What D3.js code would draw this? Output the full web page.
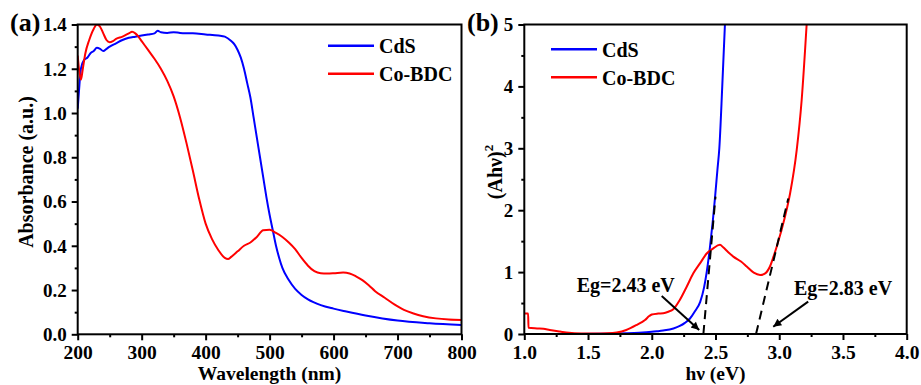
<!DOCTYPE html>
<html><head><meta charset="utf-8">
<script src="https://cdn.jsdelivr.net/npm/d3@7"></script>
<style>
body{margin:0;background:#fff;}
svg{display:block;font-family:"Liberation Serif","Times New Roman",serif;font-weight:bold;}
</style></head>
<body><svg id="c" width="921" height="385"></svg>
<script>
// ---------- DATA ----------
// Panel (a): UV-vis absorbance vs wavelength
const cdsWl  = [200,202,205,210,215,220,225,230,235,240,245,250,260,270,280,290,300,310,320,325,330,340,350,360,380,400,420,430,440,445,450,455,460,465,470,475,480,485,490,495,500,505,510,515,520,530,540,550,560,580,600,620,650,700,750,800];
const cdsAbs = [1.02,1.10,1.20,1.24,1.25,1.27,1.28,1.295,1.29,1.28,1.29,1.30,1.315,1.33,1.34,1.345,1.35,1.355,1.36,1.372,1.365,1.362,1.365,1.362,1.36,1.355,1.35,1.345,1.325,1.31,1.285,1.25,1.20,1.135,1.07,0.98,0.89,0.80,0.71,0.62,0.54,0.47,0.40,0.345,0.30,0.245,0.205,0.178,0.158,0.132,0.116,0.103,0.085,0.062,0.05,0.042];
const coWl   = [200,202,205,208,212,218,225,230,235,240,245,250,255,260,270,280,285,290,295,300,310,320,330,340,350,360,370,380,390,400,410,420,430,435,440,450,460,470,480,490,500,510,520,530,540,550,560,570,580,590,600,615,625,635,645,655,665,680,695,710,725,740,760,780,800];
const coAbs  = [1.26,1.20,1.15,1.20,1.27,1.33,1.38,1.40,1.39,1.36,1.33,1.32,1.325,1.335,1.345,1.36,1.367,1.36,1.345,1.325,1.285,1.245,1.20,1.145,1.075,0.98,0.865,0.74,0.61,0.50,0.43,0.38,0.345,0.34,0.35,0.375,0.40,0.415,0.44,0.47,0.472,0.458,0.44,0.415,0.385,0.345,0.31,0.285,0.276,0.275,0.276,0.279,0.275,0.262,0.245,0.222,0.195,0.165,0.135,0.11,0.094,0.082,0.072,0.067,0.065];
// Panel (b): Tauc plot
const cdsHv  = [1.0,1.2,1.4,1.6,1.8,1.9,2.0,2.06,2.1,2.17,2.22,2.26,2.3,2.34,2.38,2.41,2.431,2.457,2.48,2.496,2.515,2.53,2.553,2.574];
const cdsTau = [0,0,0.002,0.005,0.012,0.02,0.035,0.05,0.06,0.09,0.13,0.18,0.25,0.37,0.52,0.75,1.0,1.41,1.85,2.2,2.65,3.0,4.0,5.0];
const coHv   = [1.0,1.03,1.033,1.1,1.15,1.2,1.28,1.35,1.45,1.55,1.65,1.725,1.8,1.88,1.947,1.98,2.0,2.05,2.09,2.13,2.169,2.22,2.274,2.326,2.378,2.431,2.48,2.535,2.56,2.6,2.64,2.7,2.745,2.8,2.85,2.89,2.927,2.955,2.98,3.045,3.085,3.137,3.176,3.215];
const coTau  = [0.33,0.33,0.10,0.09,0.085,0.065,0.04,0.02,0.01,0.008,0.012,0.025,0.065,0.145,0.226,0.29,0.315,0.33,0.335,0.36,0.40,0.55,0.764,0.98,1.14,1.30,1.38,1.44,1.40,1.32,1.25,1.17,1.09,0.99,0.953,0.98,1.09,1.25,1.41,1.895,2.27,2.97,3.78,5.0];
// Extrapolation (dashed) lines and band-gap annotations
const fitCdS = [[2.405,0],[2.50,2.22]];
const fitCo  = [[2.818,0],[3.071,2.19]];
const egLabels = ["Eg=2.43 eV","Eg=2.83 eV"];
const egTextPos = [[1.411,0.683],[3.116,0.63]];
const egArrows = [[[2.078,0.614],[2.372,0.065]],[[3.227,0.523],[2.953,0.118]]];
const seriesNames = ["CdS","Co-BDC"];
const seriesColors = ["#0000ff","#ff0000"];
const xTicksA = [200,300,400,500,600,700,800];
const yTicksA = [0,0.2,0.4,0.6,0.8,1.0,1.2,1.4];
const xTicksB = [1.0,1.5,2.0,2.5,3.0,3.5,4.0];
const yTicksB = [0,1,2,3,4,5];

// ---------- DRAW ----------
const svg = d3.select("#c");
const defs = svg.append("defs");
defs.append("marker").attr("id","ah").attr("viewBox","0 0 10 10").attr("refX",10).attr("refY",5)
  .attr("markerWidth",11).attr("markerHeight",8).attr("markerUnits","userSpaceOnUse").attr("orient","auto")
  .append("path").attr("d","M0,0 L10,5 L0,10 Z").attr("fill","#000");

function panel(o){
  const x = d3.scaleLinear().domain(o.xd).range([o.l,o.r]);
  const y = d3.scaleLinear().domain(o.yd).range([o.b,o.t]);
  const g = svg.append("g");
  const cid = "clip"+o.id;
  defs.append("clipPath").attr("id",cid).append("rect")
    .attr("x",o.l).attr("y",o.t).attr("width",o.r-o.l).attr("height",o.b-o.t);
  // minor ticks
  g.append("g").attr("transform",`translate(0,${o.b})`)
    .call(d3.axisBottom(x).tickValues(o.xMinor).tickSize(3).tickFormat(""))
    .call(s=>{s.select(".domain").remove(); s.selectAll("line").attr("stroke-width",2);});
  g.append("g").attr("transform",`translate(${o.l},0)`)
    .call(d3.axisLeft(y).tickValues(o.yMinor).tickSize(3).tickFormat(""))
    .call(s=>{s.select(".domain").remove(); s.selectAll("line").attr("stroke-width",2);});
  // major ticks
  g.append("g").attr("transform",`translate(0,${o.b})`)
    .call(d3.axisBottom(x).tickValues(o.xt).tickSize(6).tickFormat(o.xf))
    .call(s=>{s.select(".domain").remove(); s.selectAll("line").attr("stroke-width",2);
      s.selectAll("text").attr("y",25).attr("dy",0).attr("font-size",19.5).attr("font-family","Liberation Serif").attr("font-weight","bold").attr("fill","#000");});
  g.append("g").attr("transform",`translate(${o.l},0)`)
    .call(d3.axisLeft(y).tickValues(o.yt).tickSize(6).tickPadding(5).tickFormat(o.yf))
    .call(s=>{s.select(".domain").remove(); s.selectAll("line").attr("stroke-width",2);
      s.selectAll("text").attr("dy","0.34em").attr("font-size",19).attr("font-family","Liberation Serif").attr("font-weight","bold").attr("fill","#000");});
  // curves
  const line = d3.line().x(d=>x(d[0])).y(d=>y(d[1])).curve(d3.curveMonotoneX);
  const pg = g.append("g").attr("clip-path",`url(#${cid})`);
  o.series.forEach((s,i)=>{
    pg.append("path").datum(s).attr("d",line).attr("fill","none")
      .attr("stroke",seriesColors[i]).attr("stroke-width",2).attr("stroke-linejoin","round");
  });
  // frame
  g.append("rect").attr("x",o.l).attr("y",o.t).attr("width",o.r-o.l).attr("height",o.b-o.t)
    .attr("fill","none").attr("stroke","#000").attr("stroke-width",2);
  // legend
  seriesNames.forEach((n,i)=>{
    const ly = o.legY + i*28;
    g.append("line").attr("x1",o.legX).attr("x2",o.legX+46).attr("y1",ly).attr("y2",ly)
      .attr("stroke",seriesColors[i]).attr("stroke-width",2.5);
    g.append("text").attr("x",o.legX+51).attr("y",ly+7.5).attr("font-size",20).text(n);
  });
  // labels
  g.append("text").attr("x",o.pl).attr("y",31).attr("font-size",26).text(o.panelLabel);
  g.append("text").attr("x",(o.l+o.r)/2).attr("y",380).attr("text-anchor","middle").attr("font-size",19.5).text(o.xlabel);
  return {x,y,g};
}

const sA = [cdsWl.map((v,i)=>[v,cdsAbs[i]]), coWl.map((v,i)=>[v,coAbs[i]])];
const pa = panel({id:"a",l:77.7,r:461.5,t:24.5,b:334.3,xd:[200,800],yd:[0,1.4],
  xt:xTicksA, yt:yTicksA, xMinor:d3.range(250,800,100), yMinor:d3.range(0.1,1.4,0.2),
  xf:d3.format("d"), yf:d3.format(".1f"), series:sA, legX:328, legY:45.7,
  panelLabel:"(a)", pl:10, xlabel:"Wavelength (nm)"});
pa.g.append("text").attr("transform","translate(33,172) rotate(-90)").attr("text-anchor","middle")
  .attr("font-size",20).text("Absorbance (a.u.)");

const sB = [cdsHv.map((v,i)=>[v,cdsTau[i]]), coHv.map((v,i)=>[v,coTau[i]])];
const pb = panel({id:"b",l:524.3,r:906.7,t:24.5,b:334,xd:[1,4],yd:[0,5],
  xt:xTicksB, yt:yTicksB, xMinor:d3.range(1.25,4,0.5), yMinor:d3.range(0.5,5,1),
  xf:d3.format(".1f"), yf:d3.format("d"), series:sB, legX:551, legY:49.3,
  panelLabel:"(b)", pl:467, xlabel:"h\u03bd (eV)"});
const yl = pb.g.append("text").attr("transform","translate(502,172) rotate(-90)").attr("text-anchor","middle").attr("font-size",20);
yl.append("tspan").text("(Ah\u03bd)");
yl.append("tspan").attr("font-size",13).attr("dy",-9).text("2");

// dashed extrapolation lines
[fitCdS, fitCo].forEach(f=>{
  pb.g.append("line").attr("x1",pb.x(f[0][0])).attr("y1",pb.y(f[0][1]))
    .attr("x2",pb.x(f[1][0])).attr("y2",pb.y(f[1][1]))
    .attr("stroke","#000").attr("stroke-width",2).attr("stroke-dasharray","9,6");
});
// arrows + labels
egArrows.forEach(a=>{
  pb.g.append("line").attr("x1",pb.x(a[0][0])).attr("y1",pb.y(a[0][1]))
    .attr("x2",pb.x(a[1][0])).attr("y2",pb.y(a[1][1]))
    .attr("stroke","#000").attr("stroke-width",2).attr("marker-end","url(#ah)");
});
egLabels.forEach((t,i)=>{
  pb.g.append("text").attr("x",pb.x(egTextPos[i][0])).attr("y",pb.y(egTextPos[i][1]))
    .attr("font-size",20).text(t);
});
</script></body></html>
